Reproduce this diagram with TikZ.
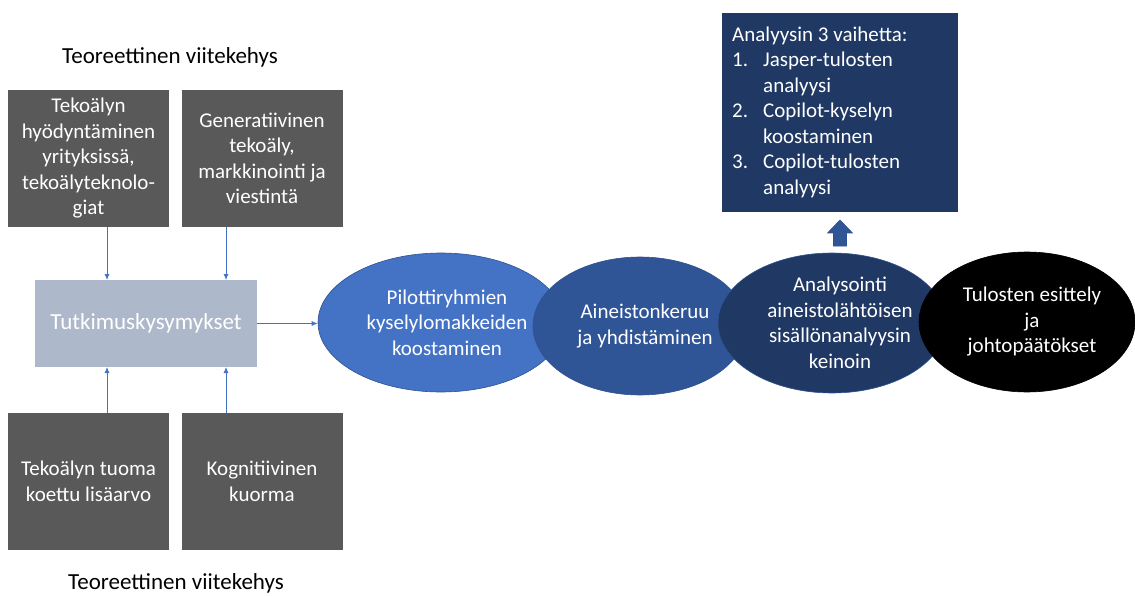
\documentclass[tikz,border=0pt]{standalone}
\usepackage{fontspec}
\setmainfont{Carlito}
\usetikzlibrary{arrows.meta,calc,shapes.geometric}
\definecolor{boxgrey}{HTML}{595959}
\definecolor{tutfill}{HTML}{ADB9CA}
\definecolor{lineblue}{HTML}{4472C4}
\definecolor{ellA}{HTML}{4472C4}
\definecolor{ellB}{HTML}{2F5597}
\definecolor{ellC}{HTML}{203864}
\definecolor{ellline}{HTML}{2F528F}
\tikzset{
  theorybox/.style={rectangle, fill=boxgrey, minimum width=161pt, minimum height=137pt,
    inner sep=1pt, text=white, align=center, font=\fontsize{21}{25.5}\selectfont},
  tutbox/.style={rectangle, fill=tutfill, minimum width=222pt, minimum height=87pt,
    text=white, font=\fontsize{23}{27}\selectfont},
  phase/.style={ellipse, inner sep=0pt, text=white, align=center, draw=ellline,
    line width=0.6pt, font=\fontsize{21}{25.5}\selectfont},
  conn/.style={draw=lineblue, line width=0.8pt, -{Latex[length=6pt,width=5pt]}},
  label/.style={font=\fontsize{23}{27}\selectfont, text=black, anchor=base},
  stepsbox/.style={rectangle, fill=ellC, minimum width=236pt, minimum height=199pt,
    inner xsep=10pt, inner ysep=0pt, text=white, font=\fontsize{21}{25.5}\selectfont, anchor=north west}
}
\begin{document}
\begin{tikzpicture}[x=1pt,y=-1pt]
\useasboundingbox (0,0) rectangle (1135,596);

% theory labels
\node[label] (lbltop) at (170,64) {Teoreettinen viitekehys};
\node[label] (lblbot) at (176,589) {Teoreettinen viitekehys};

% theory boxes
\node[theorybox] (tl) at (88.5,158.5) {Tekoälyn\\hyödyntäminen\\yrityksissä,\\tekoälyteknolo-\\giat};
\node[theorybox] (tr) at (262,158.5) {Generatiivinen\\tekoäly,\\markkinointi ja\\viestintä};
\node[theorybox] (bl) at (88.5,481.5) {Tekoälyn tuoma\\koettu lisäarvo};
\node[theorybox] (br) at (262,481.5) {Kognitiivinen\\kuorma};

% research questions
\node[tutbox] (tut) at (146,323.5) {Tutkimuskysymykset};

\coordinate (a1) at (107,280);
\coordinate (a2) at (226,280);
\coordinate (b1) at (107,367);
\coordinate (b2) at (226,367);
\draw[conn] (tl.south -| a1) -- (a1);
\draw[conn] (tr.south -| a2) -- (a2);
\draw[conn] (bl.north -| b1) -- (b1);
\draw[conn] (br.north -| b2) -- (b2);

% phases
\node[phase, fill=ellA, minimum width=246pt, minimum height=139pt] (e1) at (441,322.5)
  {\hspace*{12pt}Pilottiryhmien\\\hspace*{12pt}kyselylomakkeiden\\\hspace*{12pt}koostaminen};
\node[phase, fill=ellB, minimum width=214pt, minimum height=138pt] (e2) at (640,326)
  {\hspace*{10pt}Aineistonkeruu\\\hspace*{10pt}ja yhdistäminen};
\node[phase, fill=ellC, minimum width=224pt, minimum height=140pt] (e3) at (832,323)
  {\hspace*{16pt}Analysointi\\\hspace*{16pt}aineistolähtöisen\\\hspace*{16pt}sisällönanalyysin\\\hspace*{16pt}keinoin};
\node[phase, fill=black, draw=black, minimum width=216pt, minimum height=140pt] (e4) at (1027,322)
  {\hspace*{10pt}Tulosten esittely\\\hspace*{10pt}ja\\\hspace*{10pt}johtopäätökset};

\draw[conn] (tut.east) -- (tut.east -| e1.west);

% analysis steps box
\node[stepsbox] (steps) at (722,13) {%
  \begin{tabular}{@{}p{31pt}@{}p{185pt}@{}}
  \multicolumn{2}{@{}l@{}}{Analyysin 3 vaihetta:}\\
  1. & Jasper-tulosten\\
     & analyysi\\
  2. & Copilot-kyselyn\\
     & koostaminen\\
  3. & Copilot-tulosten\\
     & analyysi
  \end{tabular}};

% block arrow up
\coordinate (tip) at (840,220);
\fill[ellB, draw=ellline, line width=0.6pt]
  (tip) -- (852.5,233) -- (846.5,233) -- (846.5,246) -- (833.5,246) -- (833.5,233) -- (827.5,233) -- cycle;
\end{tikzpicture}
\end{document}
